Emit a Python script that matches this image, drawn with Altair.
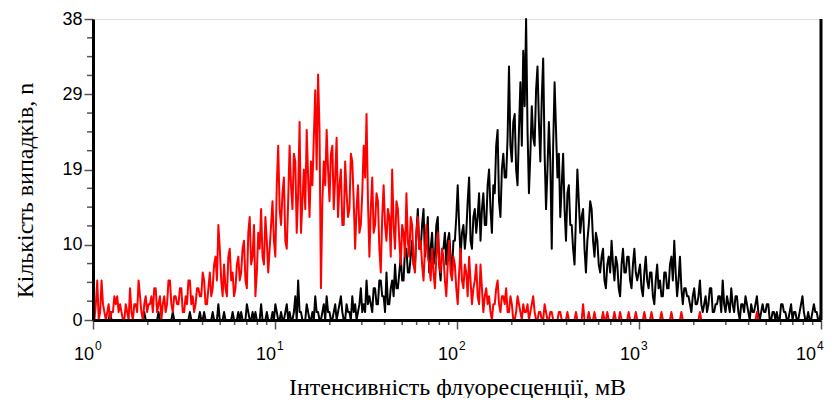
import altair as alt
import pandas as pd

# ---- data (counts per log-spaced fluorescence channel) ----
N_CHANNELS = 512          # channels spread over 4 decades (10^0 .. 10^4)

red_counts = (
    [1, 0, 2, 5, 0, 1, 5, 2, 1, 0, 1, 2, 0, 1, 1, 3, 2, 3, 1, 2,
     1, 0, 0, 2, 1, 0, 4, 1, 0, 2, 2, 1, 5, 3, 1, 0, 2, 3, 1, 2]
    + [2, 3, 1, 4, 4, 1, 2, 3, 0, 2, 3, 1, 2, 5, 5, 2, 1, 3, 3, 2,
       2, 4, 4, 1, 1, 3, 2, 5, 5, 2, 3, 1, 2, 4, 4, 3]
    + [3, 6, 5, 2, 2, 4, 6, 3, 4, 7, 8, 5, 12, 9, 5, 3, 7, 4, 3, 8,
       9, 5, 6, 3, 4, 7, 8, 5]
    + [6, 9, 10, 5, 4, 11, 13, 7, 8, 12, 3, 6, 11, 9, 14, 8, 7, 13, 10, 6,
       9, 12, 15, 10, 8, 17, 22, 14]
    + [12, 16, 18, 10, 9, 15, 22, 17, 14, 21, 20, 11, 16, 25, 11, 15, 19, 14, 24, 18,
       13, 20, 17, 23, 29, 19, 31, 24]
    + [4, 15, 20, 17, 24, 19, 15, 21, 22, 14, 18, 23, 13, 17, 19, 12, 12, 20, 16, 13,
       14, 21, 20, 15, 9, 14, 17, 11, 12, 16, 22, 18, 26, 15]
    + [8, 14, 18, 11, 12, 16, 15, 9, 6, 13, 17, 12, 10, 14, 13, 8, 19, 12, 9, 15,
       14, 10, 7, 12, 11, 8, 16, 10, 8, 13, 12, 7, 6, 11, 13, 9]
    + [10, 7, 5, 9, 12, 8, 7, 5, 9, 6, 4, 8, 11, 7, 6, 9, 8, 5, 3, 7,
       10, 6, 5, 8, 7, 4, 2, 6, 9, 5, 4, 7, 6, 3, 8, 5, 2, 4, 5, 7,
       3, 2, 7, 4, 1, 3, 4, 2]
    + [3, 1, 0, 2, 2, 4, 5, 2, 1, 3, 3, 2, 4, 1, 1, 3, 2, 0, 0, 1,
       3, 2, 1, 0, 2, 1, 1, 2, 0, 1, 2, 3, 1, 0, 0, 1, 1, 0, 0, 2,
       1, 0, 0, 1, 1, 0, 0, 0, 0, 1]
    + [1, 0, 0, 0, 0, 1, 0, 0, 0, 0, 0, 1, 0, 0, 0, 0, 2, 0, 0, 0,
       1, 0, 0, 0, 1, 0, 0, 0, 0, 0, 1, 0, 0, 1, 0, 0, 0, 0, 1, 0,
       0, 0, 1, 0, 0, 0, 0, 0, 1, 0, 0, 0, 0, 1, 0, 0, 0, 0, 0, 1,
       0, 0, 0, 0, 1, 0, 0, 0, 0, 0, 0, 1, 0, 0, 0, 0, 0, 0, 1, 0,
       0, 0, 0, 0, 0, 1, 0, 0, 0, 0]
    + [0, 0, 0, 0, 0, 0, 0, 0, 1, 0, 0, 0, 0, 0, 0, 0, 0, 0, 0, 0,
       0, 0, 0, 0, 0, 0, 0, 0, 0, 0, 0, 0, 0, 0, 0, 0, 0, 0, 0, 0,
       0, 0, 0, 0, 0, 0, 0, 0, 1, 0, 0, 0, 0, 0, 0, 0, 0, 0, 0, 0,
       0, 0, 0, 0, 0, 0, 0, 0, 0, 0, 0, 0, 0, 0, 0, 0, 0, 0, 0, 0,
       0, 0, 0, 0, 0, 0, 0, 0, 0, 0, 0, 0, 0, 0]
)

black_counts = (
    [0, 0, 0, 0, 0, 0, 0, 0, 0, 0, 0, 0, 1, 0, 0, 0, 0, 0, 0, 0,
     0, 0, 0, 0, 0, 0, 0, 0, 0, 0, 0, 0, 0, 0, 0, 0, 1, 0, 0, 0]
    + [0, 0, 0, 0, 0, 0, 1, 0, 0, 0, 0, 0, 0, 0, 0, 0, 1, 0, 0, 0,
       0, 0, 0, 0, 0, 0, 0, 0, 1, 0, 0, 0, 0, 0, 0, 1]
    + [0, 0, 1, 0, 0, 0, 0, 0, 1, 0, 0, 0, 2, 0, 0, 0, 1, 0, 0, 0,
       0, 0, 1, 0, 0, 0, 1, 0]
    + [1, 0, 0, 0, 2, 1, 0, 0, 1, 0, 1, 0, 0, 0, 2, 0, 0, 0, 1, 0,
       0, 0, 1, 0, 2, 1, 0, 0]
    + [1, 0, 0, 1, 2, 0, 1, 0, 0, 1, 3, 0, 5, 1, 1, 0, 0, 0, 2, 1,
       0, 0, 1, 0, 3, 1, 1, 0]
    + [0, 1, 2, 0, 3, 1, 1, 0, 0, 1, 2, 0, 1, 2, 3, 1, 0, 0, 2, 1,
       1, 0, 3, 1, 2, 0, 1, 2, 4, 1, 2, 1, 5, 2]
    + [3, 2, 1, 4, 4, 2, 2, 5, 5, 3, 3, 1, 6, 2, 2, 4, 5, 3, 7, 4,
       4, 6, 8, 5, 5, 9, 9, 6, 6, 8, 10, 7, 7, 11, 14, 9]
    + [9, 12, 14, 8, 10, 13, 6, 9, 11, 7, 8, 12, 13, 7, 5, 9, 9, 11, 7, 10,
       11, 8, 6, 10, 10, 13, 17, 12, 8, 11, 12, 9, 11, 15, 18, 10,
       9, 13, 14, 11, 13, 16, 10, 14, 16, 12, 12, 17]
    + [19, 14, 11, 17, 16, 22, 24, 15, 13, 19, 21, 18, 18, 23, 32, 22, 20, 25, 26, 19,
       17, 24, 30, 22, 34, 27, 38, 24, 16, 21, 27, 23, 22, 29, 32, 25, 20, 28, 33, 21,
       14, 19, 25, 20, 9, 22, 30, 24, 18, 21]
    + [13, 17, 21, 14, 10, 16, 17, 12, 12, 9, 7, 13, 19, 15, 11, 13, 14, 9, 6, 10,
       12, 15, 14, 10, 8, 11]
    + [10, 7, 6, 8, 9, 5, 4, 7, 8, 6, 10, 7, 5, 8, 7, 4, 3, 7, 9, 6,
       6, 8, 8, 5, 4, 7, 9, 6]
    + [5, 6, 7, 4, 3, 6, 8, 5, 4, 6, 6, 3, 2, 5, 7, 4, 5, 3, 3, 6,
       6, 4, 4, 7, 8, 5, 10, 6, 3, 5, 8, 4, 2, 4, 4, 3]
    + [3, 2, 1, 3, 4, 2, 2, 3, 5, 2, 1, 2, 3, 1, 2, 4, 4, 1, 1, 2,
       2, 3, 3, 1, 5, 2, 1, 3, 2, 1, 4, 2, 1, 3, 3, 1, 0, 2, 2, 1,
       3, 2, 1, 0, 2, 1, 1, 2, 3, 1, 0, 1, 2, 1, 1, 2, 2, 0, 0, 1,
       1, 0]
    + [1, 0, 0, 2, 2, 1, 1, 0, 0, 1, 2, 0, 1, 1, 0, 0, 1, 2, 3, 1,
       0, 0, 1, 0, 0, 1, 2, 1, 1, 0, 0, 1]
)

decades = [1, 10, 100, 1000]
decade_exponents = ["0", "1", "2", "3"]
last_decade = [10000]
last_exponent = ["4"]
minor_multipliers = [2, 3, 4, 5, 6, 7, 8, 9]
y_max = 38
y_major = [0, 9.5, 19, 28.5, 38]          # labelled 0, 10, 19, 29, 38
x_title = "Інтенсивність флуоресценції, мВ"
y_title = "Кількість випадків, n"

# ---- tables ----
def channel_x(i):
    return 10 ** (4 * i / (N_CHANNELS - 1))

black_df = pd.DataFrame({"x": [channel_x(i) for i in range(len(black_counts))],
                         "n": black_counts})
red_df = pd.DataFrame({"x": [channel_x(i) for i in range(len(red_counts))],
                       "n": red_counts})
dec_df = pd.DataFrame({"x": decades, "exp": decade_exponents})
last_df = pd.DataFrame({"x": last_decade, "exp": last_exponent})
minor_x_df = pd.DataFrame({"x": [m * d for d in decades for m in minor_multipliers]})
minor_y_df = pd.DataFrame({"y": [k * y_max / 16 for k in range(17) if k % 4 != 0]})

W, H = 728, 301
LABEL_FONT = "Liberation Sans"
TITLE_FONT = "Liberation Serif"
TICK_COLOR = "#555555"

x_scale = alt.Scale(type="log", domain=[1, 10000], nice=False)
y_scale = alt.Scale(domain=[0, y_max], nice=False, zero=True)

x_axis = alt.Axis(values=decades + last_decade, labels=False, tickSize=9, tickWidth=1.5,
                  tickColor=TICK_COLOR, domainWidth=3, domainColor="black",
                  grid=False, title=x_title, titleFont=TITLE_FONT, titleFontSize=24,
                  titleFontWeight="normal", titleColor="black", titleAlign="center",
                  titleBaseline="alphabetic", titleX=W / 2, titleY=74, zindex=1)
y_axis = alt.Axis(values=y_major, labelExpr="ceil(datum.value)", tickSize=9,
                  tickWidth=1.5, tickColor=TICK_COLOR, domainWidth=3,
                  domainColor="black", grid=False, labelFont=LABEL_FONT,
                  labelFontSize=18, labelColor="black", labelPadding=2,
                  title=y_title, titleFont=TITLE_FONT, titleFontSize=24,
                  titleFontWeight="normal", titleColor="black", titleAngle=-90,
                  titleAlign="center", titleBaseline="alphabetic",
                  titleX=-61, titleY=171, zindex=1)

black_line = alt.Chart(black_df).mark_line(
    color="black", strokeWidth=2, strokeJoin="round"
).encode(
    x=alt.X("x:Q", scale=x_scale, axis=x_axis),
    y=alt.Y("n:Q", scale=y_scale, axis=y_axis),
)

red_line = alt.Chart(red_df).mark_line(
    color="#ff0000", strokeWidth=2, strokeJoin="round"
).encode(
    x=alt.X("x:Q", scale=x_scale),
    y=alt.Y("n:Q", scale=y_scale),
)

minor_x = alt.Chart(minor_x_df).mark_rule(color=TICK_COLOR, strokeWidth=1.5).encode(
    x=alt.X("x:Q", scale=x_scale), y=alt.value(H), y2=alt.value(H + 5)
)
minor_y = alt.Chart(minor_y_df).mark_rule(color=TICK_COLOR, strokeWidth=1.5).encode(
    y=alt.Y("y:Q", scale=y_scale), x=alt.value(-6), x2=alt.value(0)
)

def decade_labels(df, dx_base, dx_exp):
    base = alt.Chart(df).mark_text(
        font=LABEL_FONT, fontSize=18, align="right", baseline="alphabetic",
        dx=dx_base, color="black"
    ).encode(x=alt.X("x:Q", scale=x_scale), y=alt.value(H + 40), text=alt.value("10"))
    exp = alt.Chart(df).mark_text(
        font=LABEL_FONT, fontSize=12, align="left", baseline="alphabetic",
        dx=dx_exp, color="black"
    ).encode(x=alt.X("x:Q", scale=x_scale), y=alt.value(H + 30), text="exp:N")
    return base, exp

dec_base, dec_exp = decade_labels(dec_df, 1, 2)
last_base, last_exp = decade_labels(last_df, -5, -4)

right_border = alt.Chart(pd.DataFrame({"a": [0]})).mark_rule(
    color="black", strokeWidth=3
).encode(x=alt.value(W), y=alt.value(0), y2=alt.value(H))

chart = alt.layer(
    black_line, red_line, minor_x, minor_y, dec_base, dec_exp,
    last_base, last_exp, right_border
).properties(
    width=W, height=H,
    autosize=alt.AutoSizeParams(type="none"),
    padding={"left": 85, "top": 11, "right": 3, "bottom": 78},
).configure_view(stroke="#444444", strokeWidth=1).configure(background="white")

chart.save("out.html", embed_options={"renderer": "svg", "actions": False})
